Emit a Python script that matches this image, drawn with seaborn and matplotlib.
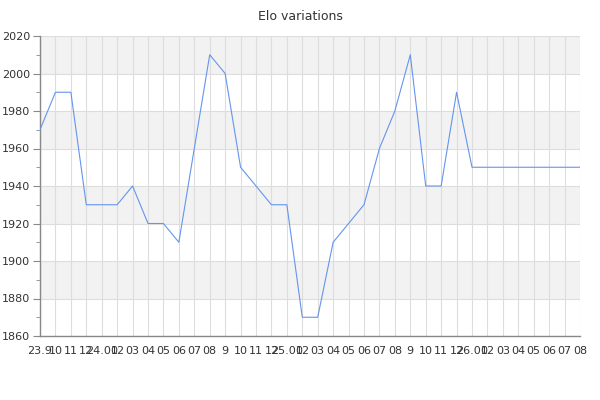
import numpy as np
import pandas as pd
import matplotlib
matplotlib.use('Agg')
import matplotlib.pyplot as plt
from matplotlib.ticker import MultipleLocator
import seaborn as sns

#tick labels for each month (year.month then month only)
months = ['23.9', '10', '11', '12', '24.01', '02', '03', '04', '05', '06', '07', '08',
          '9', '10', '11', '12', '25.01', '02', '03', '04', '05', '06', '07', '08',
          '9', '10', '11', '12', '26.01', '02', '03', '04', '05', '06', '07', '08']

#elo
elo = [1970, 1990, 1990, 1930, 1930, 1930, 1940, 1920, 1920, 1910, 1960, 2010,
       2000, 1950, 1940, 1930, 1930, 1870, 1870, 1910, 1920, 1930, 1960, 1980,
       2010, 1940, 1940, 1990, 1950, 1950, 1950, 1950, 1950, 1950, 1950, 1950]

df = pd.DataFrame({'idx': range(len(months)), 'elo': elo})

sns.set_style('white')
plt.rcParams['font.family'] = ['DejaVu Sans']

fig = plt.figure(figsize=(6, 4), dpi=100)
ax = fig.add_axes([40/600, 64/400, 540/600, 300/400])

#alternating bands
for lo in range(1880, 2020, 40):
    ax.axhspan(lo, lo + 20, color='#f2f2f2', zorder=0, lw=0)

sns.lineplot(data=df, x='idx', y='elo', color='#6495ed', lw=0.8, ax=ax, zorder=3)

ax.set_xlim(0, len(months) - 1)
ax.set_ylim(1860, 2020)
ax.yaxis.set_major_locator(MultipleLocator(20))
ax.yaxis.set_minor_locator(MultipleLocator(10))
ax.set_xticks(df['idx'])
ax.set_xticklabels(months)

ax.grid(True, which='major', color='#dddddd', lw=0.8, zorder=1)
ax.set_axisbelow(True)

for s in ['top', 'right']:
    ax.spines[s].set_visible(False)
for s in ['left', 'bottom']:
    ax.spines[s].set_color('#888888')
    ax.spines[s].set_linewidth(1)

ax.tick_params(axis='y', which='major', left=True, length=5, color='#888888',
               labelsize=8, labelcolor='#333333', pad=2)
ax.tick_params(axis='y', which='minor', left=True, length=3, color='#888888')
ax.tick_params(axis='x', bottom=False, labelsize=8, labelcolor='#333333', pad=4)

ax.set_xlabel('')
ax.set_ylabel('')
fig.suptitle('Elo variations', fontsize=9, color='#333333', y=0.975)

plt.savefig('out.png', dpi=100)
